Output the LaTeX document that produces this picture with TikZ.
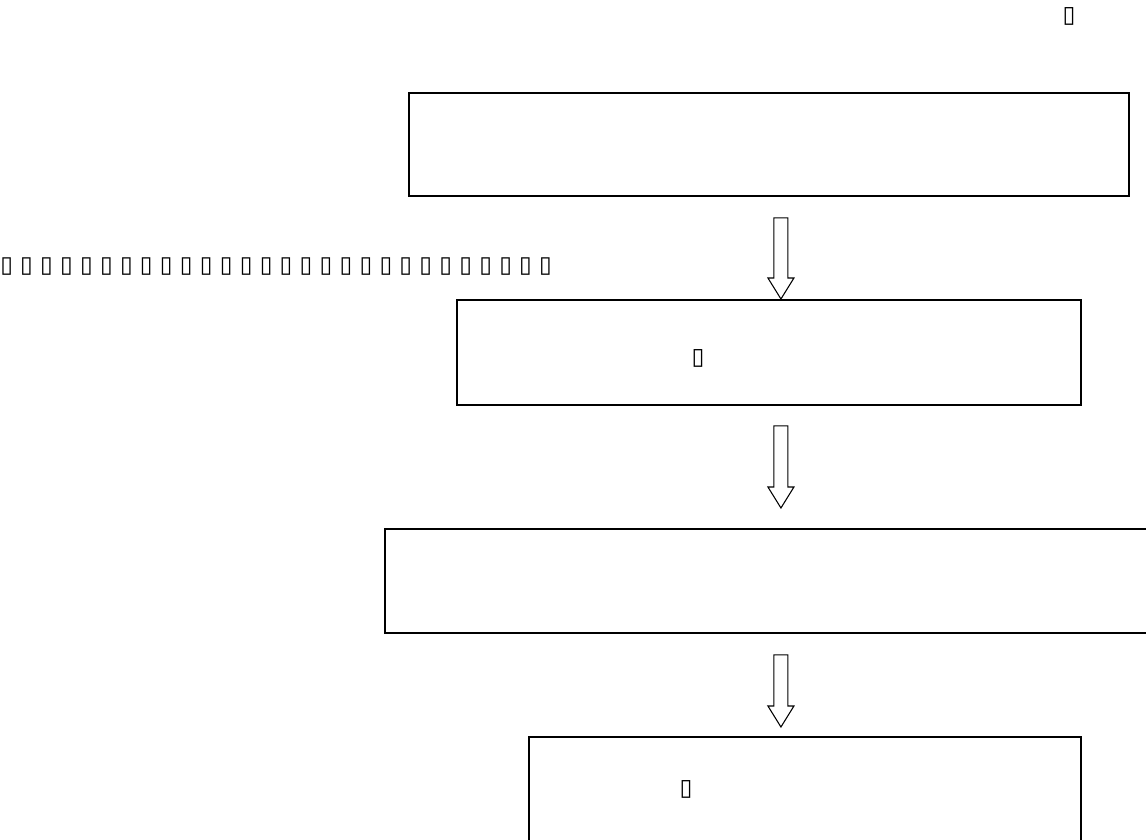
\documentclass[tikz,border=0pt]{standalone}
\usepackage{fontspec}
\newfontfamily\tofu{DejaVu Sans}
\usetikzlibrary{calc,positioning}
\newcommand{\fatarrow}[2]{\draw[hollow] let \p1=(#1), \p2=(#2) in (\x1-5.25pt,\y1)--(\x1-5.25pt,\y2+15.75pt)--(\x1-9.75pt,\y2+15.75pt)--(\x1,\y2)--(\x1+9.75pt,\y2+15.75pt)--(\x1+5.25pt,\y2+15.75pt)--(\x1+5.25pt,\y1)--cycle;}

\begin{document}
\begin{tikzpicture}[x=0.75pt,y=-0.75pt,font=\tofu\fontsize{17.5}{20}\selectfont,
  box/.style={draw,line width=1.4pt,anchor=north west,inner sep=0pt},
  hollow/.style={draw,line width=0.8pt,fill=white}]
\clip (0,0) rectangle (1146,839);
\node (mark) at (1069,16){▯};
\node[box,minimum width=540pt,minimum height=77.25pt] (b1) at (408,92){};
\node[anchor=west,inner sep=0pt,font=\tofu\fontsize{17.25}{20}\selectfont] (row) at (0,267){▯ ▯ ▯ ▯ ▯ ▯ ▯ ▯ ▯ ▯ ▯ ▯ ▯ ▯ ▯ ▯ ▯ ▯ ▯ ▯ ▯ ▯ ▯ ▯ ▯ ▯ ▯ ▯};
\node[box,minimum width=468pt,minimum height=78.75pt] (b2) at (456,299){};
\node (t2) at (698,358){▯};
\node[box,minimum width=585pt,minimum height=78pt] (b3) at (384,528){};
\node[box,minimum width=414pt,minimum height=78pt] (b4) at (528,736){};
\node (t4) at (686,789){▯};
% arrows between the boxes
\coordinate (a1) at ($(b1.south)+(12,21)$); \coordinate (e1) at (a1 |- b2.north);
\coordinate (a2) at ($(a1 |- b2.south)+(0,20)$); \coordinate (e2) at ($(a1 |- b3.north)+(0,-20)$);
\coordinate (a3) at ($(a1 |- b3.south)+(0,21)$); \coordinate (e3) at ($(a1 |- b4.north)+(0,-9)$);
\fatarrow{a1}{e1} \fatarrow{a2}{e2} \fatarrow{a3}{e3}
\end{tikzpicture}
\end{document}
